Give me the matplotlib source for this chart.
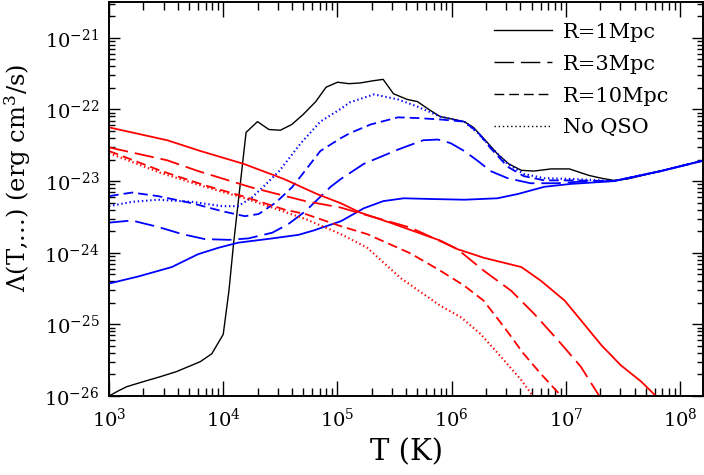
import matplotlib
matplotlib.use("Agg")
import matplotlib.pyplot as plt
import numpy as np
from matplotlib.lines import Line2D

plt.rcParams['font.family'] = 'DejaVu Serif'
plt.rcParams['mathtext.fontset'] = 'dejavuserif'
plt.rcParams['lines.scale_dashes'] = False

# log10 T, log10 Lambda
black_lgT = [3.0, 3.08, 3.155, 3.30, 3.45, 3.59, 3.80, 3.90, 4.0, 4.05, 4.09, 4.2, 4.30, 4.40, 4.50,
             4.60, 4.70, 4.81, 4.90, 5.0, 5.10, 5.20, 5.31, 5.40, 5.49, 5.61, 5.70, 5.80, 5.90,
             5.99, 6.11, 6.19, 6.30, 6.40, 6.50, 6.61, 6.72, 6.87, 7.03, 7.20, 7.31, 7.42, 7.54,
             7.83, 8.21]
black_lgL = [-26.0, -25.93, -25.87, -25.80, -25.73, -25.66, -25.52, -25.41, -25.14, -24.53, -23.88,
             -22.32, -22.17, -22.28, -22.29, -22.21, -22.07, -21.89, -21.69, -21.62, -21.64, -21.63,
             -21.60, -21.58, -21.78, -21.86, -21.89, -22.0, -22.10, -22.13, -22.17, -22.25, -22.44,
             -22.62, -22.76, -22.85, -22.86, -22.83, -22.83, -22.92, -22.96, -22.99, -22.97,
             -22.86, -22.71]

blue1_lgT = [3.0, 3.26, 3.55, 3.78, 3.96, 4.13, 4.43, 4.66, 4.79, 5.03, 5.23, 5.40, 5.58, 5.82,
             6.11, 6.40, 6.58, 6.81, 7.04, 7.42, 7.83, 8.21]
blue1_lgL = [-24.43, -24.33, -24.20, -24.02, -23.93, -23.86, -23.80, -23.75, -23.69, -23.56, -23.38,
             -23.28, -23.24, -23.25, -23.26, -23.24, -23.18, -23.08, -23.04, -23.0, -22.86, -22.71]

blue3_lgT = [3.0, 3.20, 3.43, 3.64, 3.84, 4.05, 4.22, 4.43, 4.57, 4.72, 4.94, 5.03, 5.23, 5.53,
             5.75, 5.88, 5.99, 6.11, 6.23, 6.34, 6.49, 6.69, 6.93, 7.10, 7.42, 7.83, 8.21]
blue3_lgL = [-23.58, -23.55, -23.64, -23.74, -23.81, -23.82, -23.80, -23.72, -23.60, -23.42, -23.08,
             -22.97, -22.76, -22.56, -22.43, -22.42, -22.47, -22.58, -22.72, -22.86, -22.96, -23.03,
             -23.03, -23.01, -23.0, -22.86, -22.71]

blue10_lgT = [3.0, 3.20, 3.43, 3.73, 3.99, 4.19, 4.31, 4.46, 4.60, 4.69, 4.85, 5.03, 5.11, 5.29,
              5.53, 5.70, 5.90, 6.11, 6.23, 6.34, 6.49, 6.63, 6.81, 7.04, 7.42, 7.83, 8.21]
blue10_lgL = [-23.21, -23.16, -23.21, -23.31, -23.42, -23.49, -23.46, -23.30, -23.09, -22.91, -22.58,
              -22.40, -22.33, -22.21, -22.11, -22.12, -22.14, -22.17, -22.32, -22.54, -22.80,
              -22.93, -22.99, -22.99, -23.0, -22.86, -22.71]

blue0_lgT = [3.0, 3.20, 3.43, 3.73, 3.99, 4.13, 4.25, 4.37, 4.49, 4.68, 4.85, 5.03, 5.11, 5.32,
             5.53, 5.70, 5.90, 6.11, 6.23, 6.34, 6.49, 6.63, 6.81, 7.04, 7.42, 7.83, 8.21]
blue0_lgL = [-23.35, -23.29, -23.26, -23.29, -23.35, -23.35, -23.23, -23.05, -22.86, -22.47, -22.17,
             -21.99, -21.90, -21.79, -21.86, -21.96, -22.10, -22.17, -22.33, -22.52, -22.76, -22.90,
             -22.96, -22.97, -23.0, -22.86, -22.71]

red1_lgT = [3.0, 3.51, 3.80, 4.18, 4.53, 4.82, 5.03, 5.20, 5.46, 5.90, 6.05, 6.28, 6.61, 6.78,
            6.99, 7.13, 7.31, 7.48, 7.66, 7.80]
red1_lgL = [-22.25, -22.43, -22.58, -22.76, -22.97, -23.18, -23.31, -23.44, -23.58, -23.83, -23.95,
            -24.07, -24.20, -24.39, -24.67, -24.94, -25.29, -25.57, -25.80, -26.02]

red3_lgT = [3.0, 3.51, 3.78, 4.25, 4.72, 5.03, 5.20, 5.64, 5.93, 6.05, 6.28, 6.52, 6.72, 6.93,
            7.13, 7.30]
red3_lgL = [-22.53, -22.71, -22.86, -23.09, -23.28, -23.37, -23.45, -23.65, -23.86, -23.95, -24.25,
            -24.53, -24.85, -25.22, -25.59, -26.02]

red10_lgT = [3.0, 3.46, 3.84, 4.19, 4.54, 4.72, 5.03, 5.26, 5.64, 5.90, 6.11, 6.28, 6.46, 6.63,
             6.78, 6.97]
red10_lgL = [-22.58, -22.86, -23.06, -23.22, -23.40, -23.46, -23.63, -23.74, -24.01, -24.25, -24.46,
             -24.67, -25.04, -25.41, -25.69, -26.02]

red0_lgT = [3.0, 3.46, 3.84, 4.19, 4.54, 4.72, 5.03, 5.26, 5.55, 5.90, 6.08, 6.25, 6.43, 6.61,
            6.72]
red0_lgL = [-22.61, -22.89, -23.08, -23.24, -23.43, -23.53, -23.74, -23.93, -24.35, -24.74, -24.90,
            -25.13, -25.45, -25.78, -26.02]

labels = ['R=1Mpc', 'R=3Mpc', 'R=10Mpc', 'No QSO']
xdecades = [3, 4, 5, 6, 7, 8]
ydecades = [-26, -25, -24, -23, -22, -21]

solid = '-'
longdash = (0, (14, 5))
shortdash = (0, (7, 3.6))
dotted = (0, (1, 2))

fig = plt.figure(figsize=(7.04, 4.75), dpi=100)
ax = fig.add_axes([109 / 704, 79 / 475, 594 / 704, 394 / 475])

ax.plot(10 ** np.array(black_lgT), 10 ** np.array(black_lgL), color='black', lw=1.0)
ax.plot(10 ** np.array(blue1_lgT), 10 ** np.array(blue1_lgL), color='blue', lw=1.3, ls=solid)
ax.plot(10 ** np.array(blue3_lgT), 10 ** np.array(blue3_lgL), color='blue', lw=1.3, ls=longdash)
ax.plot(10 ** np.array(blue10_lgT), 10 ** np.array(blue10_lgL), color='blue', lw=1.3, ls=shortdash)
ax.plot(10 ** np.array(blue0_lgT), 10 ** np.array(blue0_lgL), color='blue', lw=1.5, ls=dotted)
ax.plot(10 ** np.array(red1_lgT), 10 ** np.array(red1_lgL), color='red', lw=1.3, ls=solid)
ax.plot(10 ** np.array(red3_lgT), 10 ** np.array(red3_lgL), color='red', lw=1.3, ls=longdash)
ax.plot(10 ** np.array(red10_lgT), 10 ** np.array(red10_lgL), color='red', lw=1.3, ls=shortdash)
ax.plot(10 ** np.array(red0_lgT), 10 ** np.array(red0_lgL), color='red', lw=1.5, ls=dotted)

ax.set_xscale('log')
ax.set_yscale('log')
ax.set_xticks([10.0 ** d for d in xdecades])
ax.set_yticks([10.0 ** d for d in ydecades])
ax.set_xlim(1e3, 10 ** 8.2)
ax.set_ylim(1e-26, 10 ** -20.5)

for s in ax.spines.values():
    s.set_linewidth(1.4)
ax.tick_params(which='both', direction='in', top=True, right=True, width=1.0, labelsize=14)
ax.tick_params(axis='x', which='major', length=11, pad=8)
ax.tick_params(axis='x', which='minor', length=6)
ax.tick_params(axis='y', which='major', length=8, pad=7)
ax.tick_params(axis='y', which='minor', length=4.5)

ax.set_xlabel('T (K)', fontsize=21, labelpad=6)
ax.set_ylabel('Λ(T,...) (erg cm$^3$/s)', fontsize=17.5)
ax.yaxis.set_label_coords(-0.128, 0.553)

handles = [Line2D([], [], color='black', lw=1.0, ls=solid),
           Line2D([], [], color='black', lw=1.0, ls=longdash),
           Line2D([], [], color='black', lw=1.0, ls=shortdash),
           Line2D([], [], color='black', lw=1.0, ls=dotted)]
ax.legend(handles, labels, loc='upper right', frameon=False, fontsize=15,
          handlelength=2.75, handletextpad=0.55, labelspacing=0.62,
          bbox_to_anchor=(0.975, 0.995))

fig.savefig('out.png', dpi=100)
